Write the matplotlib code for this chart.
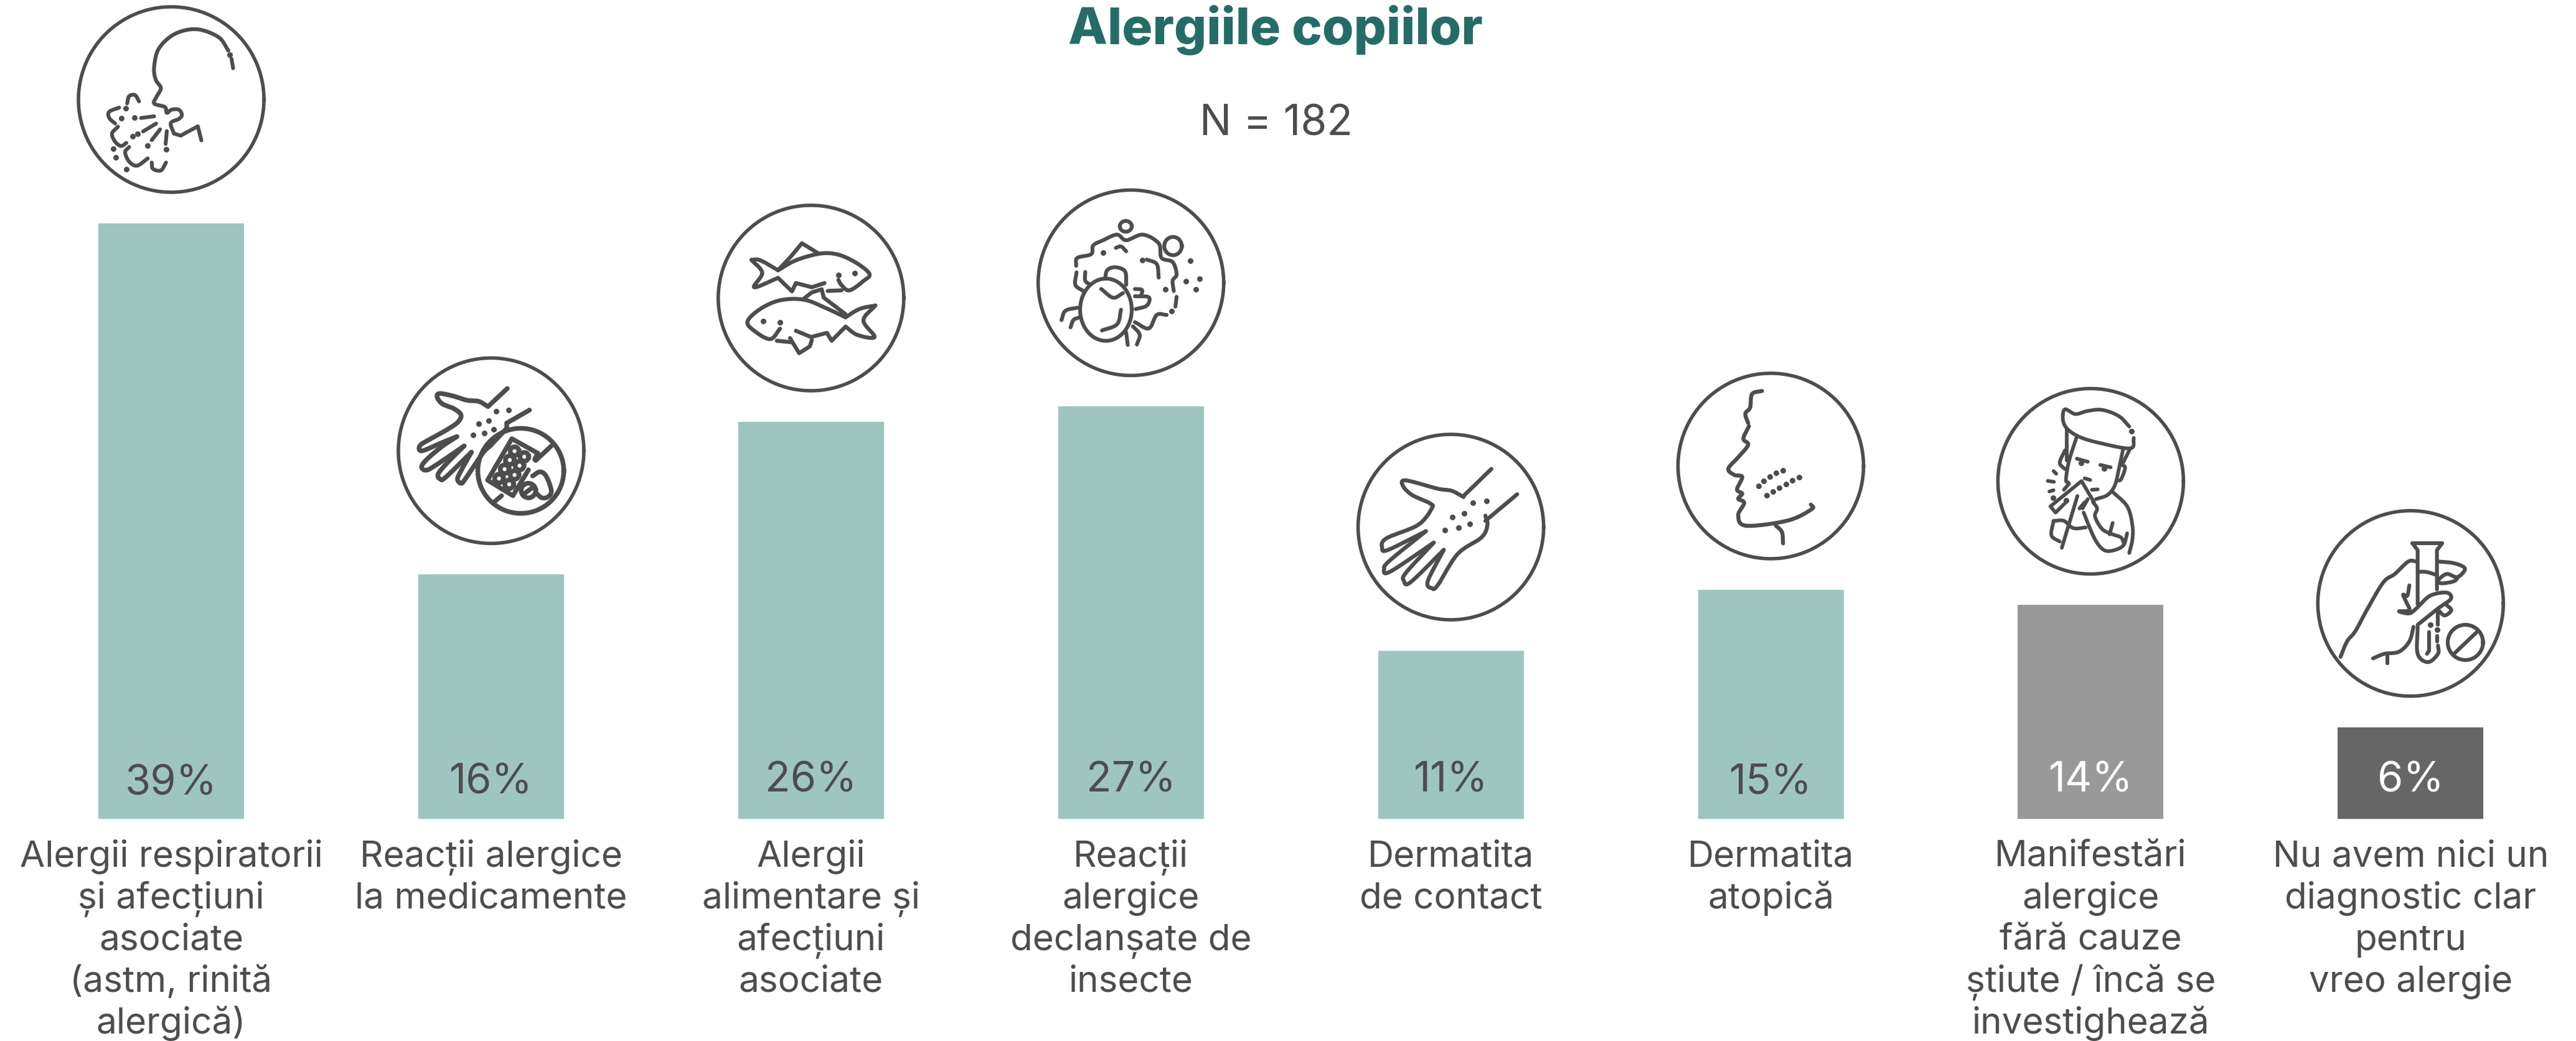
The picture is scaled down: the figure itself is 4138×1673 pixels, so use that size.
import numpy as np
from matplotlib import pyplot as plt

# datos
categorias = ['Alergii respiratorii\nși afecțiuni\nasociate\n(astm, rinită\nalergică)',
              'Reacții alergice\nla medicamente',
              'Alergii\nalimentare și\nafecțiuni\nasociate',
              'Reacții\nalergice\ndeclanșate de\ninsecte',
              'Dermatita\nde contact',
              'Dermatita\natopică',
              'Manifestări\nalergice\nfără cauze\nștiute / încă se\ninvestighează',
              'Nu avem nici un\ndiagnostic clar\npentru\nvreo alergie']
valores = [39, 16, 26, 27, 11, 15, 14, 6]
colores = ['#9FC5C1'] * 6 + ['#999999', '#666666']
color_valor = ['#4D4D4D'] * 6 + ['#FFFFFF', '#FFFFFF']
base_valor = [39, 41, 44, 44, 44, 40, 44, 44]  # px over the bar bottom

GRIS = '#4D4D4D'
FUENTE = 'Inter'
PX_X = 513.9    # px per category
PX_Y = 24.54    # px per percent


def curva(p, n=14):
    # catmull-rom through the traced points
    p = np.array(p, dtype=float)
    if len(p) < 3:
        return p
    q = np.vstack([2 * p[0] - p[1], p, 2 * p[-1] - p[-2]])
    out = []
    for i in range(1, len(q) - 2):
        for t in np.linspace(0, 1, n, endpoint=False):
            out.append(0.5 * (2 * q[i] + (q[i + 1] - q[i - 1]) * t
                              + (2 * q[i - 1] - 5 * q[i] + 4 * q[i + 1] - q[i + 2]) * t ** 2
                              + (3 * q[i] - q[i - 1] - 3 * q[i + 1] + q[i + 2]) * t ** 3))
    out.append(q[-2])
    return np.array(out)


iconos = [
    dict(c=(431, 486), s=(1.568, 3), lw=4.4,
         curvas=[[(587, 335), (583, 290)],
                 [(575, 250), (550, 185), (495, 147), (440, 170), (400, 240), (388, 330), (392, 390), (405, 430),
                  (395, 470), (388, 505), (415, 522), (420, 550), (432, 535), (450, 535), (458, 560), (450, 580),
                  (430, 600), (438, 650)],
                 [(300, 525), (275, 545), (275, 575), (290, 602)],
                 [(297, 617), (282, 650), (290, 690), (305, 710), (318, 695)],
                 [(325, 715), (315, 740), (325, 785), (345, 805), (372, 770)],
                 [(382, 790), (385, 820), (405, 828), (418, 790)],
                 [(320, 505), (325, 470), (340, 465), (350, 495)]],
         lineas=[[(438, 650), (455, 660), (498, 615), (507, 683)],
                 [(355, 575), (388, 567)], [(360, 640), (393, 602)], [(382, 682), (403, 630)],
                 [(417, 700), (420, 638)]],
         puntos=[(579, 270), (316, 528), (306, 577), (338, 572), (333, 663), (346, 650), (371, 707), (418, 725),
                 (285, 724), (292, 764), (318, 822)]),
    dict(c=(480, 488), s=(3, 3), lw=5.4,
         curvas=[[(465, 275), (420, 250), (365, 245), (300, 225), (232, 212), (220, 230), (245, 262), (300, 285),
                  (335, 315), (320, 350), (270, 385), (190, 430), (140, 460), (135, 485), (160, 485), (240, 450),
                  (315, 420)],
                 [(315, 420), (240, 470), (170, 530), (145, 565), (165, 582), (210, 560), (350, 465)],
                 [(350, 465), (270, 545), (225, 600), (235, 625), (262, 615), (385, 495)],
                 [(385, 495), (335, 585), (318, 625), (335, 645), (355, 625), (440, 500), (480, 460), (555, 380)],
                 [(680, 610), (715, 590), (745, 610), (770, 680), (755, 710), (725, 715), (700, 695)]],
         lineas=[[(465, 275), (558, 188)], [(555, 355), (665, 292)], [(555, 355), (555, 380)],
                 [(770, 465), (695, 535)], [(530, 705), (495, 735)],
                 [(705, 500), (580, 430), (463, 630), (585, 705), (660, 580)], [(705, 500), (690, 530)],
                 [(640, 695), (680, 665)]],
         puntos=[(505, 299), (563, 291), (421, 358), (469, 344), (392, 413), (447, 402), (493, 386)],
         anillos=[(623, 585, 207, 205), (660, 680, 35, 35), (593, 490, 21, 21), (640, 517, 21, 21),
                  (570, 533, 21, 21), (617, 560, 21, 21), (545, 577, 21, 21), (593, 605, 21, 21),
                  (518, 622, 21, 21), (567, 650, 21, 21)]),
    dict(c=(318, 692), s=(1.568, 3), lw=4.6,
         curvas=[[(168, 508), (190, 510), (235, 558)],
                 [(235, 558), (280, 510), (340, 478), (385, 482), (430, 520), (465, 575), (450, 610), (415, 655),
                  (395, 630), (387, 605)],
                 [(168, 508), (195, 570), (175, 640), (235, 595)],
                 [(480, 728), (440, 745), (405, 785)],
                 [(405, 785), (355, 740), (300, 700), (240, 703), (190, 745), (158, 805), (175, 850), (215, 890),
                  (240, 840)],
                 [(480, 728), (450, 800), (478, 880), (435, 870), (405, 830)]],
         lineas=[[(235, 595), (270, 660), (280, 620), (320, 640), (352, 620)],
                 [(235, 558), (268, 490), (295, 428), (335, 475)],
                 [(360, 658), (395, 655)], [(300, 695), (320, 665), (345, 650), (350, 690), (405, 770)],
                 [(405, 830), (370, 898), (358, 860), (318, 880), (280, 850)],
                 [(232, 898), (268, 905)], [(265, 885), (288, 958), (315, 925), (320, 895)]],
         puntos=[(387, 580), (428, 572), (197, 802), (240, 810)]),
    dict(c=(1120, 600), s=(1.568, 3), lw=4.4,
         curvas=[[(982, 518), (985, 480), (1020, 462), (1025, 420), (1050, 395), (1085, 368), (1108, 395), (1150, 368),
                  (1190, 410), (1197, 480), (1225, 500), (1235, 560), (1225, 590), (1228, 640)],
                 [(1210, 755), (1185, 755), (1165, 820), (1130, 790)],
                 [(983, 550), (980, 610), (1000, 640)], [(1005, 548), (1005, 590), (1018, 610)],
                 [(1082, 432), (1095, 425), (1108, 448)], [(1160, 488), (1185, 510), (1190, 575)],
                 [(1055, 580), (1060, 540), (1080, 525), (1105, 545), (1108, 610)],
                 [(1045, 630), (1075, 672), (1100, 650)], [(1095, 730), (1085, 800), (1047, 830)],
                 [(945, 780), (955, 735), (985, 720)], [(968, 815), (975, 780), (988, 768)],
                 [(1130, 665), (1165, 670), (1160, 710), (1132, 727)], [(1130, 630), (1148, 635), (1145, 665)],
                 [(1108, 840), (1112, 900)], [(1125, 810), (1142, 850), (1135, 898)]],
         lineas=[[(1235, 668), (1232, 715)]],
         puntos=[(1223, 738), (1050, 455), (1148, 492), (1270, 494), (1258, 592), (1293, 581), (1284, 632),
                 (1207, 631)],
         anillos=[(1107, 328, 15, 26), (1226, 423, 22, 44), (1057, 730, 65, 150)]),
    dict(c=(363, 890), s=(1.568, 3), lw=4.6,
         curvas=[[(395, 745), (365, 715), (330, 705), (250, 665), (242, 690), (265, 735), (310, 775), (315, 800),
                  (280, 880), (200, 945), (190, 990), (205, 1000), (300, 910)],
                 [(300, 910), (210, 1050), (195, 1090), (210, 1105), (320, 965)],
                 [(320, 965), (250, 1110), (245, 1150), (262, 1155), (345, 1000)],
                 [(345, 1000), (305, 1150), (315, 1185), (330, 1170), (380, 1020), (440, 940), (455, 880), (450, 835)]],
         lineas=[[(395, 740), (465, 610)], [(450, 860), (530, 732)]],
         puntos=[(418, 772), (453, 763), (366, 843), (396, 825), (411, 874), (382, 893), (348, 906)]),
    dict(c=(1167, 592), s=(1.568, 3), lw=4.6,
         curvas=[[(1145, 230), (1120, 245), (1115, 310), (1103, 340), (1110, 385)],
                 [(1112, 400), (1098, 460), (1110, 490), (1085, 550), (1060, 605), (1075, 635), (1095, 645),
                  (1082, 705), (1095, 725), (1085, 750), (1100, 770), (1085, 830), (1105, 880), (1210, 855),
                  (1270, 800), (1268, 778)],
                 [(1180, 880), (1195, 910), (1198, 965)]],
         lineas=[],
         puntos=[(1136, 689), (1149, 664), (1164, 643), (1181, 626), (1198, 612), (1157, 733), (1172, 714),
                 (1188, 696), (1205, 680), (1221, 662), (1238, 645)]),
    dict(c=(504, 489), s=(3, 3), lw=4.2,
         curvas=[[(690, 225), (640, 175), (560, 145), (490, 150), (430, 165), (380, 142), (370, 190), (390, 235),
                  (450, 275), (550, 305), (695, 330), (712, 280)],
                 [(435, 280), (400, 390), (385, 480), (395, 495)], [(380, 340), (355, 400), (380, 430)],
                 [(660, 335), (640, 430), (620, 510), (585, 555), (530, 575)],
                 [(655, 410), (670, 425), (650, 480), (630, 485)],
                 [(325, 680), (375, 680), (420, 715), (480, 712)], [(325, 680), (315, 750), (355, 780)],
                 [(515, 590), (535, 620), (525, 660), (560, 720), (610, 745), (650, 760), (665, 790)],
                 [(470, 640), (520, 760), (560, 815), (600, 825), (660, 800), (680, 740)],
                 [(610, 540), (680, 610), (705, 700), (705, 770), (690, 835)]],
         lineas=[[(390, 235), (390, 390)], [(695, 330), (660, 400)], [(437, 380), (490, 395)], [(550, 410), (600, 422)],
                 [(475, 475), (502, 483)], [(510, 530), (538, 528)], [(325, 440), (338, 453)],
                 [(297, 487), (327, 492)], [(305, 538), (325, 532)],
                 [(390, 585), (335, 640), (310, 610), (460, 488), (520, 590)], [(375, 530), (400, 500)],
                 [(440, 560), (365, 810)], [(475, 590), (450, 620)], [(490, 575), (465, 620)],
                 [(610, 690), (595, 745)]],
         puntos=[(702, 248), (458, 400), (570, 428), (322, 570), (385, 580)]),
    dict(c=(516, 507), s=(3, 3), lw=4.4,
         curvas=[[(550, 355), (590, 355), (643, 370)],
                 [(178, 765), (210, 690), (250, 640), (310, 530), (385, 405), (440, 365), (505, 305), (545, 305)],
                 [(650, 305), (720, 312), (770, 330), (775, 350), (740, 380), (690, 365), (650, 395), (665, 410),
                  (725, 400), (745, 380)],
                 [(510, 420), (500, 470), (480, 465), (495, 500), (510, 540), (460, 545), (510, 555), (545, 530),
                  (610, 470), (690, 455), (710, 485), (650, 530), (550, 610)],
                 [(690, 515), (712, 540), (680, 565), (650, 540)],
                 [(550, 620), (550, 750), (600, 790), (648, 750), (648, 710)],
                 [(530, 620), (510, 690), (460, 740), (390, 750), (335, 772)]],
         lineas=[[(525, 217), (668, 217)], [(525, 217), (550, 250), (550, 510)], [(668, 217), (643, 250), (643, 440)],
                 [(648, 550), (648, 610)], [(645, 665), (645, 690)], [(605, 645), (605, 735), (595, 750)],
                 [(405, 760), (405, 795)], [(725, 750), (835, 645)]],
         puntos=[(645, 635), (611, 610)],
         anillos=[(780, 695, 85, 85)]),
]

fig = plt.figure(figsize=(41.38, 16.74), dpi=100, facecolor='white')
ax = fig.add_axes([0, 0, 1, 1])
ax.set_xlim(-275 / PX_X, (4138 - 275) / PX_X)
ax.set_ylim((1317 - 1674) / PX_Y, 1317 / PX_Y)
ax.axis('off')

x = np.arange(len(valores))
ax.bar(x, valores, width=234 / PX_X, color=colores, linewidth=0)

for i, v in enumerate(valores):
    ax.annotate(f'{v}%', (i, 0), xytext=(0, base_valor[i]), textcoords='offset pixels', ha='center', va='baseline',
                fontsize=48, family=FUENTE, fontweight='normal', color=color_valor[i])
    for k, linea in enumerate(categorias[i].split('\n')):
        ax.annotate(linea, (i, 0), xytext=(0, -76 - 67 * k), textcoords='offset pixels', ha='center', va='baseline',
                    fontsize=42, family=FUENTE, fontweight='normal', color=GRIS)

    ic = iconos[i]
    cy = v + 199 / PX_Y


    def a_datos(p):
        p = np.asarray(p, dtype=float)
        return (i + (p[:, 0] - ic['c'][0]) / ic['s'][0] / PX_X,
                cy - (p[:, 1] - ic['c'][1]) / ic['s'][1] / PX_Y)


    t = np.linspace(0, 2 * np.pi, 200)
    ax.plot(i + 149 * np.cos(t) / PX_X, cy + 149 * np.sin(t) / PX_Y, color=GRIS, lw=4)
    for s in ic['curvas']:
        ax.plot(*a_datos(curva(s)), color=GRIS, lw=ic['lw'], solid_capstyle='round', solid_joinstyle='round')
    for s in ic['lineas']:
        ax.plot(*a_datos(s), color=GRIS, lw=ic['lw'], solid_capstyle='round', solid_joinstyle='round')
    for a in ic.get('anillos', []):
        px = a[0] + a[2] * np.cos(t)
        py = a[1] + a[3] * np.sin(t)
        ax.plot(*a_datos(np.column_stack([px, py])), color=GRIS, lw=ic['lw'])
    if ic['puntos']:
        ax.plot(*a_datos(ic['puntos']), 'o', color=GRIS, ms=6.5, mew=0)

fig.text(2049 / 4138, 1 - 71 / 1674, 'Alergiile copiilor', ha='center', va='baseline', fontsize=59,
         family=FUENTE, fontweight=800, color='#246D66')
fig.text(2050 / 4138, 1 - 217 / 1674, 'N = 182', ha='center', va='baseline', fontsize=49,
         family=FUENTE, fontweight='normal', color=GRIS)

fig.savefig('out.png', dpi=100)
